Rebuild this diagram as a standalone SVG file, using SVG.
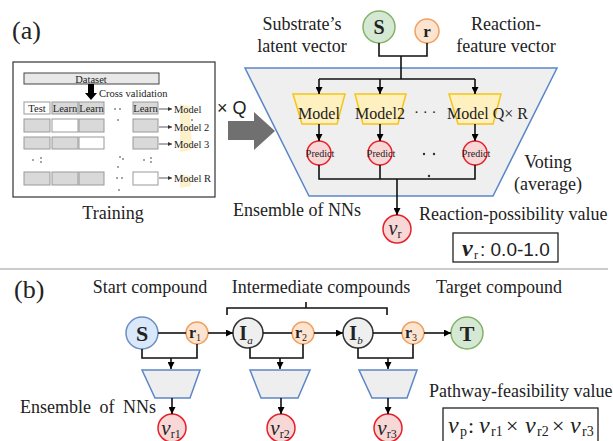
<svg xmlns="http://www.w3.org/2000/svg" width="613" height="441" viewBox="0 0 613 441">
<defs>
<marker id="ah" viewBox="0 0 8 8" refX="8" refY="4" markerWidth="7" markerHeight="7" markerUnits="userSpaceOnUse" orient="auto"><path d="M0,0 L8,4 L0,8 z" fill="#000"/></marker>
<marker id="ahs" viewBox="0 0 8 8" refX="8" refY="4" markerWidth="4" markerHeight="4" markerUnits="userSpaceOnUse" orient="auto"><path d="M0,0 L8,4 L0,8 z" fill="#333"/></marker>
</defs>
<style>
text{font-family:"Liberation Serif","Times New Roman",serif;fill:#222}
.lbl{font-size:18px}
.big{font-size:26px}
.sm{font-size:10.5px}
.sans{font-family:"Liberation Sans",Arial,sans-serif}
.ln{stroke:#111;stroke-width:1.6;fill:none}
.cell{fill:#d9d9d9;stroke:#999;stroke-width:1}
.wcell{fill:#fff;stroke:#999;stroke-width:1}
.green{fill:#d5e8d4;stroke:#82b366;stroke-width:1.5}
.orange{fill:#fde4d0;stroke:#f0a060;stroke-width:1.5}
.blue{fill:#dae8fc;stroke:#6c8ebf;stroke-width:1.5}
.grayc{fill:#efefef;stroke:#333;stroke-width:1.5}
.red{fill:#f8d7d7;stroke:#e8202a;stroke-width:1.5}
.model{fill:#fff0c0;stroke:#f5c518;stroke-width:1.5}
.nn{fill:#eeeeee;stroke:#5b86c8;stroke-width:1.5}
.dot{fill:#333}
</style>
<rect width="613" height="441" fill="#fff"/>

<!-- (a) -->
<text x="12" y="39" class="big">(a)</text>

<g id="training">
<rect x="13" y="62" width="202" height="135" fill="#fff" stroke="#333" stroke-width="1.2"/>
<rect x="24" y="73" width="135" height="11" fill="#e8e8e8" stroke="#444" stroke-width="1"/>
<text x="91" y="82.5" class="sm" text-anchor="middle">Dataset</text>
<polygon points="88,84 94,84 94,93 97,93 91,100 85,93 88,93" fill="#000"/>
<text x="99" y="97" class="sm">Cross validation</text>
<rect x="24" y="102" width="26" height="12" class="wcell"/>
<rect x="52" y="102" width="26" height="12" class="cell"/>
<rect x="79" y="102" width="25" height="12" class="cell"/>
<rect x="133" y="102" width="25" height="12" class="cell"/>
<text x="37" y="112" class="sm" text-anchor="middle">Test</text>
<text x="65" y="112" class="sm" text-anchor="middle">Learn</text>
<text x="91.5" y="112" class="sm" text-anchor="middle">Learn</text>
<text x="145.5" y="112" class="sm" text-anchor="middle">Learn</text>
<rect x="24" y="119" width="26" height="13" class="cell"/>
<rect x="52" y="119" width="26" height="13" class="wcell"/>
<rect x="79" y="119" width="25" height="13" class="cell"/>
<rect x="133" y="119" width="25" height="13" class="cell"/>
<rect x="24" y="137" width="26" height="12" class="cell"/>
<rect x="52" y="137" width="26" height="12" class="cell"/>
<rect x="79" y="137" width="25" height="12" class="wcell"/>
<rect x="133" y="137" width="25" height="12" class="cell"/>
<rect x="24" y="172" width="26" height="13" class="cell"/>
<rect x="52" y="172" width="26" height="13" class="cell"/>
<rect x="79" y="172" width="25" height="13" class="cell"/>
<rect x="133" y="172" width="25" height="13" class="wcell"/>
<polygon points="180,104 190,106 192,150 180,152" fill="#fbe7a8" opacity="0.6"/>
<polygon points="180,174 190,176 191,186 180,188" fill="#fbe7a8" opacity="0.6"/>
<g stroke="#333" stroke-width="0.8" marker-end="url(#ahs)">
<line x1="159" y1="109" x2="172" y2="109"/>
<line x1="159" y1="127" x2="172" y2="127"/>
<line x1="159" y1="144" x2="172" y2="144"/>
<line x1="159" y1="178" x2="172" y2="178"/>
</g>
<text x="174" y="113" class="sm" font-size="11">Model</text>
<text x="174" y="131" class="sm" font-size="11">Model 2</text>
<text x="174" y="148" class="sm" font-size="11">Model 3</text>
<text x="174" y="182" class="sm" font-size="11">Model R</text>
<g class="dot">
<circle cx="115" cy="109" r="0.8"/><circle cx="120" cy="109" r="0.8"/><circle cx="118" cy="120" r="0.8"/>
<circle cx="33" cy="160" r="0.8"/><circle cx="41" cy="158" r="0.8"/><circle cx="41" cy="162" r="0.8"/>
<circle cx="120" cy="157" r="0.8"/><circle cx="123" cy="159" r="0.8"/><circle cx="118" cy="167" r="0.8"/>
<circle cx="144" cy="160" r="0.8"/><circle cx="151" cy="158" r="0.8"/><circle cx="151" cy="162" r="0.8"/>
<circle cx="117" cy="178" r="0.8"/><circle cx="122" cy="178" r="0.8"/><circle cx="119" cy="190" r="0.8"/>
<circle cx="192" cy="120" r="0.8"/>
</g>
<text x="113" y="219" class="lbl" text-anchor="middle">Training</text>
</g>

<text x="217" y="114" class="sans" font-size="18">× Q</text>
<polygon points="228,121 254,121 254,112 275,131 254,150 254,140 228,140" fill="#707070"/>

<g id="ensemble-a">
<polygon points="245,68 557,68 493,196 309,196" fill="#efefef" stroke="#5b86c8" stroke-width="1.5"/>
</g>

<g id="S-a">
<circle cx="379" cy="27" r="16" class="green"/>
<text x="379" y="34" font-size="20" font-weight="bold" text-anchor="middle">S</text>
</g>
<g id="r-a">
<circle cx="427" cy="31" r="12" class="orange"/>
<text x="427" y="37" font-size="17" font-weight="bold" text-anchor="middle">r</text>
</g>
<text x="302" y="30" class="lbl" text-anchor="middle">Substrate’s</text>
<text x="302" y="52" class="lbl" text-anchor="middle">latent vector</text>
<text x="506" y="30" class="lbl" text-anchor="middle">Reaction-</text>
<text x="506" y="52" class="lbl" text-anchor="middle">feature vector</text>

<g id="model1"><polygon points="293,94 345,94 337,124 302,124" class="model"/><text x="319" y="119" font-size="16" text-anchor="middle">Model</text></g>
<g id="model2"><polygon points="355,94 406,94 398,124 363,124" class="model"/><text x="380" y="119" font-size="16" text-anchor="middle">Model2</text></g>
<g id="modelQR"><polygon points="449,94 501,94 493,124 458,124" class="model"/><text x="447" y="119" font-size="16">Model Q× R</text></g>
<text x="414" y="117" font-size="15">· · ·</text>

<g id="pred1"><circle cx="319" cy="153" r="12" class="red"/><text x="320" y="157" font-size="10" text-anchor="middle">Predict</text></g>
<g id="pred2"><circle cx="380" cy="153" r="12" class="red"/><text x="381" y="157" font-size="10" text-anchor="middle">Predict</text></g>
<g id="pred3"><circle cx="475" cy="153" r="12" class="red"/><text x="476" y="157" font-size="10" text-anchor="middle">Predict</text></g>
<g class="dot"><circle cx="424" cy="154" r="1.2"/><circle cx="434" cy="154" r="1.2"/><circle cx="429" cy="176" r="1.2"/></g>

<g id="vr-a"><circle cx="397" cy="229" r="14" class="red"/><text x="395" y="235" font-size="20" font-style="italic" text-anchor="middle">v<tspan font-style="normal" font-size="12" dy="3">r</tspan></text></g>

<text x="548" y="168" class="lbl" text-anchor="middle">Voting</text>
<text x="548" y="190" class="lbl" text-anchor="middle">(average)</text>
<text x="233" y="216" class="lbl">Ensemble of NNs</text>
<text x="419" y="220" class="lbl">Reaction-possibility value</text>
<g id="vr-box">
<rect x="453" y="233" width="105" height="29" fill="#fff" stroke="#222" stroke-width="1.3"/>
<text x="462" y="256" font-size="24" font-style="italic" font-weight="bold">v</text>
<text x="474" y="259" font-size="12">r</text>
<text x="480" y="256" font-size="19" class="sans">: 0.0-1.0</text>
</g>

<g id="connectors-a">
<polyline points="379,43 379,56 427,56 427,43" class="ln"/>
<line x1="401" y1="56" x2="401" y2="79" class="ln"/>
<line x1="319" y1="79" x2="475" y2="79" class="ln"/>
<line x1="319" y1="79" x2="319" y2="94" class="ln" marker-end="url(#ah)"/>
<line x1="380" y1="79" x2="380" y2="94" class="ln" marker-end="url(#ah)"/>
<line x1="475" y1="79" x2="475" y2="94" class="ln" marker-end="url(#ah)"/>
<line x1="319" y1="124" x2="319" y2="141" class="ln" marker-end="url(#ah)"/>
<line x1="380" y1="124" x2="380" y2="141" class="ln" marker-end="url(#ah)"/>
<line x1="475" y1="124" x2="475" y2="141" class="ln" marker-end="url(#ah)"/>
<polyline points="319,165 319,179 475,179 475,165" class="ln"/>
<line x1="380" y1="165" x2="380" y2="179" class="ln"/>
<line x1="397" y1="179" x2="397" y2="215" class="ln" marker-end="url(#ah)"/>
</g>

<line x1="0" y1="269" x2="608" y2="269" stroke="#bbb" stroke-width="1.5"/>

<!-- (b) -->
<text x="14" y="298" class="big">(b)</text>
<text x="150" y="293" class="lbl" text-anchor="middle">Start compound</text>
<text x="321" y="293" class="lbl" text-anchor="middle">Intermediate compounds</text>
<text x="499" y="293" class="lbl" text-anchor="middle">Target compound</text>
<polyline points="227,315 227,308 387,308 387,315" class="ln" stroke-width="1.2"/>
<line x1="306" y1="308" x2="306" y2="302" class="ln" stroke-width="1.2"/>

<g id="S-b"><circle cx="142" cy="333" r="16" class="blue"/><text x="142" y="341" font-size="22" font-weight="bold" text-anchor="middle">S</text></g>
<g id="r1"><circle cx="197" cy="333" r="11" class="orange"/><text x="195" y="338" font-size="16" font-weight="bold" text-anchor="middle">r<tspan font-weight="normal" font-size="10" dy="3">1</tspan></text></g>
<g id="Ia"><circle cx="248" cy="333" r="15" class="grayc"/><text x="246" y="340" font-size="20" font-weight="bold" text-anchor="middle">I<tspan font-weight="normal" font-style="italic" font-size="11" dy="4">a</tspan></text></g>
<g id="r2"><circle cx="303" cy="333" r="11" class="orange"/><text x="301" y="338" font-size="16" font-weight="bold" text-anchor="middle">r<tspan font-weight="normal" font-size="10" dy="3">2</tspan></text></g>
<g id="Ib"><circle cx="358" cy="333" r="15" class="grayc"/><text x="356" y="340" font-size="20" font-weight="bold" text-anchor="middle">I<tspan font-weight="normal" font-style="italic" font-size="11" dy="4">b</tspan></text></g>
<g id="r3"><circle cx="413" cy="333" r="11" class="orange"/><text x="411" y="338" font-size="16" font-weight="bold" text-anchor="middle">r<tspan font-weight="normal" font-size="10" dy="3">3</tspan></text></g>
<g id="T"><circle cx="467" cy="333" r="16" class="green"/><text x="467" y="341" font-size="22" font-weight="bold" text-anchor="middle">T</text></g>

<g id="nn1"><polygon points="142,370 200,370 190,398 155,398" class="nn"/></g>
<g id="nn2"><polygon points="250,370 310,370 298,398 261,398" class="nn"/></g>
<g id="nn3"><polygon points="359,370 417,370 407,398 372,398" class="nn"/></g>

<g id="vr1"><circle cx="172" cy="428" r="14" class="red"/><text x="171" y="435" font-size="21" font-style="italic" text-anchor="middle">v<tspan font-style="normal" font-size="12" dy="3">r1</tspan></text></g>
<g id="vr2"><circle cx="281" cy="428" r="14" class="red"/><text x="280" y="435" font-size="21" font-style="italic" text-anchor="middle">v<tspan font-style="normal" font-size="12" dy="3">r2</tspan></text></g>
<g id="vr3"><circle cx="388" cy="428" r="14" class="red"/><text x="387" y="435" font-size="21" font-style="italic" text-anchor="middle">v<tspan font-style="normal" font-size="12" dy="3">r3</tspan></text></g>

<text x="20" y="413" class="lbl" style="word-spacing:4px">Ensemble of NNs</text>
<text x="429" y="397" class="lbl">Pathway-feasibility value</text>
<g id="vp-box">
<rect x="443" y="408" width="155" height="40" fill="#fff" stroke="#222" stroke-width="1.3"/>
<text y="433" font-size="24" font-style="italic"><tspan x="448">v</tspan><tspan x="479">v</tspan><tspan x="525">v</tspan><tspan x="570">v</tspan></text>
<text y="436" font-size="14"><tspan x="460">p</tspan><tspan x="491">r1</tspan><tspan x="537">r2</tspan><tspan x="582">r3</tspan></text>
<text y="433" font-size="22"><tspan x="468">:</tspan><tspan x="506">×</tspan><tspan x="552">×</tspan></text>
</g>

<g id="connectors-b">
<line x1="158" y1="333" x2="186" y2="333" class="ln"/>
<line x1="208" y1="333" x2="233" y2="333" class="ln" marker-end="url(#ah)"/>
<line x1="263" y1="333" x2="292" y2="333" class="ln"/>
<line x1="314" y1="333" x2="343" y2="333" class="ln" marker-end="url(#ah)"/>
<line x1="373" y1="333" x2="402" y2="333" class="ln"/>
<line x1="424" y1="333" x2="451" y2="333" class="ln" marker-end="url(#ah)"/>
<polyline points="142,349 142,358 197,358 197,344" class="ln"/>
<line x1="171" y1="358" x2="171" y2="369" class="ln" marker-end="url(#ah)"/>
<line x1="172" y1="398" x2="172" y2="414" class="ln" marker-end="url(#ah)"/>
<polyline points="250,348 250,358 303,358 303,344" class="ln"/>
<line x1="280" y1="358" x2="280" y2="369" class="ln" marker-end="url(#ah)"/>
<line x1="281" y1="398" x2="281" y2="414" class="ln" marker-end="url(#ah)"/>
<polyline points="358,348 358,358 413,358 413,344" class="ln"/>
<line x1="388" y1="358" x2="388" y2="369" class="ln" marker-end="url(#ah)"/>
<line x1="388" y1="398" x2="388" y2="414" class="ln" marker-end="url(#ah)"/>
</g>
</svg>
